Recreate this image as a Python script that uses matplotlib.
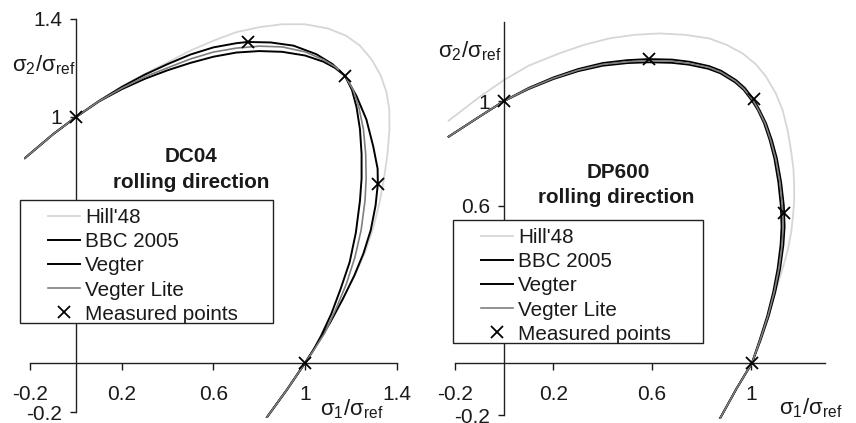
import matplotlib
matplotlib.use("Agg")
import matplotlib.pyplot as plt
from matplotlib.patches import Rectangle

plt.rcParams['font.family'] = ['Liberation Sans', 'DejaVu Sans']
plt.rcParams['mathtext.fontset'] = 'custom'
plt.rcParams['mathtext.rm'] = 'Liberation Sans'
plt.rcParams['mathtext.it'] = 'Liberation Sans:italic'
plt.rcParams['mathtext.bf'] = 'Liberation Sans:bold'

# ---- DC04 (left) ----
dc04_hill_x = [0.834, 0.92, 1.0, 1.055, 1.11, 1.165, 1.22, 1.262, 1.298, 1.325, 1.345, 1.36, 1.369, 1.368,
               1.356, 1.33, 1.29, 1.24, 1.18, 1.10, 1.0, 0.9, 0.8, 0.7, 0.6, 0.5, 0.4, 0.3, 0.2, 0.1, 0.0,
               -0.1, -0.223]
dc04_hill_y = [-0.22, -0.11, 0.0, 0.08, 0.165, 0.26, 0.36, 0.45, 0.55, 0.65, 0.75, 0.85, 0.95, 1.03,
               1.10, 1.17, 1.235, 1.29, 1.33, 1.36, 1.377, 1.377, 1.365, 1.345, 1.31, 1.27, 1.222, 1.175,
               1.125, 1.065, 1.0, 0.93, 0.833]
dc04_bbc_x = [0.834, 0.92, 1.0, 1.055, 1.11, 1.165, 1.215, 1.255, 1.287, 1.308, 1.318, 1.317, 1.298, 1.268,
              1.225, 1.175, 1.12, 1.05, 0.95, 0.85, 0.75, 0.7, 0.6, 0.5, 0.4, 0.3, 0.2, 0.1, 0.0, -0.1, -0.223]
dc04_bbc_y = [-0.22, -0.11, 0.0, 0.08, 0.165, 0.26, 0.355, 0.445, 0.54, 0.64, 0.728, 0.79, 0.88, 0.99,
              1.085, 1.167, 1.215, 1.255, 1.29, 1.303, 1.305, 1.300, 1.283, 1.254, 1.215, 1.172, 1.122,
              1.065, 1.0, 0.93, 0.833]
dc04_vegter_x = [0.834, 0.92, 1.0, 1.035, 1.07, 1.115, 1.155, 1.195, 1.222, 1.240, 1.247, 1.247, 1.240, 1.225,
                 1.205, 1.175, 1.13, 1.08, 1.0, 0.9, 0.8, 0.7, 0.6, 0.5, 0.4, 0.3, 0.2, 0.1, 0.0, -0.1, -0.223]
dc04_vegter_y = [-0.22, -0.11, 0.0, 0.05, 0.11, 0.20, 0.30, 0.41, 0.53, 0.66, 0.75, 0.85, 0.95, 1.04,
                 1.11, 1.167, 1.20, 1.225, 1.25, 1.265, 1.268, 1.262, 1.245, 1.22, 1.19, 1.155, 1.113,
                 1.063, 1.0, 0.93, 0.833]
dc04_lite_x = [0.834, 0.92, 1.0, 1.04, 1.085, 1.135, 1.18, 1.218, 1.245, 1.262, 1.267, 1.265, 1.255, 1.235,
               1.21, 1.175, 1.13, 1.08, 1.0, 0.9, 0.8, 0.7, 0.6, 0.5, 0.4, 0.3, 0.2, 0.1, 0.0, -0.1, -0.223]
dc04_lite_y = [-0.22, -0.11, 0.0, 0.055, 0.12, 0.22, 0.32, 0.43, 0.54, 0.66, 0.75, 0.85, 0.95, 1.04,
               1.11, 1.167, 1.205, 1.233, 1.265, 1.285, 1.288, 1.28, 1.264, 1.236, 1.20, 1.163, 1.117,
               1.064, 1.0, 0.93, 0.833]
dc04_meas_x = [0.0, 0.751, 1.175, 1.318, 1.0]
dc04_meas_y = [1.0, 1.305, 1.167, 0.728, 0.0]

# ---- DP600 (right) ----
dp600_hill_x = [0.875, 0.942, 1.004, 1.04, 1.072, 1.098, 1.128, 1.149, 1.163, 1.17, 1.175, 1.175, 1.172,
                1.162, 1.148, 1.128, 1.10, 1.061, 1.02, 0.966, 0.90, 0.831, 0.73, 0.629, 0.53, 0.426,
                0.326, 0.224, 0.1, 0.0, -0.1, -0.224]
dp600_hill_y = [-0.211, -0.097, 0.0, 0.09, 0.18, 0.27, 0.36, 0.431, 0.50, 0.56, 0.62, 0.673, 0.74,
                0.813, 0.89, 0.966, 1.03, 1.093, 1.14, 1.182, 1.215, 1.239, 1.253, 1.258, 1.253, 1.239,
                1.215, 1.182, 1.135, 1.08, 1.015, 0.925]
dp600_bbc_x = [0.875, 0.942, 1.004, 1.04, 1.072, 1.098, 1.118, 1.131, 1.136, 1.133, 1.122, 1.105, 1.085,
               1.061, 1.035, 1.011, 0.975, 0.939, 0.88, 0.831, 0.75, 0.68, 0.586, 0.5, 0.4, 0.3, 0.2,
               0.1, 0.0, -0.1, -0.224]
dp600_bbc_y = [-0.211, -0.097, 0.0, 0.09, 0.18, 0.27, 0.36, 0.45, 0.52, 0.60, 0.69, 0.78, 0.85, 0.915,
               0.965, 1.006, 1.05, 1.08, 1.115, 1.133, 1.150, 1.158, 1.160, 1.156, 1.145, 1.122, 1.09,
               1.05, 1.0, 0.94, 0.864]
dp600_vegter_x = [0.875, 0.942, 1.004, 1.036, 1.066, 1.09, 1.108, 1.12, 1.124, 1.121, 1.111, 1.095, 1.076,
                  1.053, 1.028, 1.005, 0.97, 0.935, 0.876, 0.828, 0.748, 0.678, 0.585, 0.5, 0.4, 0.3, 0.2,
                  0.1, 0.0, -0.1, -0.224]
dp600_vegter_y = [-0.211, -0.097, 0.0, 0.09, 0.18, 0.27, 0.36, 0.45, 0.52, 0.60, 0.69, 0.78, 0.85, 0.915,
                  0.965, 1.0, 1.043, 1.072, 1.106, 1.123, 1.139, 1.146, 1.148, 1.145, 1.135, 1.114, 1.084,
                  1.046, 1.0, 0.94, 0.864]
dp600_lite_x = [0.875, 0.942, 1.004, 1.038, 1.069, 1.094, 1.113, 1.126, 1.13, 1.127, 1.117, 1.1, 1.08,
                1.057, 1.031, 1.008, 0.972, 0.937, 0.878, 0.83, 0.75, 0.68, 0.586, 0.5, 0.4, 0.3, 0.2,
                0.1, 0.0, -0.1, -0.224]
dp600_lite_y = [-0.211, -0.097, 0.0, 0.09, 0.18, 0.27, 0.36, 0.45, 0.52, 0.60, 0.69, 0.78, 0.85, 0.915,
                0.965, 1.003, 1.046, 1.076, 1.11, 1.128, 1.144, 1.152, 1.154, 1.15, 1.14, 1.118, 1.087,
                1.048, 1.0, 0.94, 0.864]
dp600_meas_x = [0.0, 0.586, 1.011, 1.135, 1.004]
dp600_meas_y = [1.0, 1.159, 1.006, 0.571, 0.0]

legend_labels = ["Hill'48", "BBC 2005", "Vegter", "Vegter Lite", "Measured points"]
dc04_ticks = [-0.2, 0.2, 0.6, 1.0, 1.4]
dc04_ticklabels = ['-0.2', '0.2', '0.6', '1', '1.4']
dp600_ticks = [-0.2, 0.2, 0.6, 1.0]
dp600_ticklabels = ['-0.2', '0.2', '0.6', '1']

TXT = '#1a1a1a'
HILL_C = '#d6d6d6'
LITE_C = '#7f7f7f'
FS = 14.9
TICK_FS = 15
LAB_FS = 16


def draw_panel(ax, curves, meas, ticks, ticklabels, bound, legend_box, title, title_pos, ylab_pos, xlab_pos):
    (hx, hy), (bx, by), (vx, vy), (lx, ly) = curves
    ax.plot(hx, hy, color=HILL_C, lw=1.3, label=legend_labels[0], zorder=2)
    ax.plot(bx, by, color='black', lw=1.4, label=legend_labels[1], zorder=3)
    ax.plot(vx, vy, color='black', lw=1.4, label=legend_labels[2], zorder=3)
    ax.plot(lx, ly, color=LITE_C, lw=1.2, label=legend_labels[3], zorder=3)
    ax.plot(meas[0], meas[1], ls='none', marker='x', ms=9, mew=1.3, color='black',
            label=legend_labels[4], zorder=4)

    # axes through origin
    for s in ['top', 'right']:
        ax.spines[s].set_visible(False)
    ax.spines['left'].set_position(('data', 0))
    ax.spines['bottom'].set_position(('data', 0))
    for s in ['left', 'bottom']:
        ax.spines[s].set_bounds(bound[0], bound[1])
        ax.spines[s].set_color('#222222')
        ax.spines[s].set_linewidth(1.0)
    ax.set_xticks(ticks)
    ax.set_xticklabels(ticklabels)
    ax.set_yticks(ticks)
    ax.set_yticklabels(ticklabels)
    ax.tick_params(axis='x', direction='out', length=5, width=1.0, pad=11, labelsize=TICK_FS, colors=TXT)
    ax.tick_params(axis='y', direction='out', length=4, width=1.0, pad=6, labelsize=TICK_FS, colors=TXT)
    ax.patch.set_visible(False)

    ax.text(ylab_pos[0], ylab_pos[1], r'$\mathrm{\sigma_2/\sigma_{ref}}$', fontsize=LAB_FS, color=TXT,
            ha='left', va='baseline')
    ax.text(xlab_pos[0], xlab_pos[1], r'$\mathrm{\sigma_1/\sigma_{ref}}$', fontsize=LAB_FS, color=TXT,
            ha='left', va='baseline')
    ax.text(title_pos[0][0], title_pos[0][1], title, fontsize=FS, fontweight='bold', color=TXT,
            ha='center', va='center')
    ax.text(title_pos[1][0], title_pos[1][1], 'rolling direction', fontsize=FS, fontweight='bold',
            color=TXT, ha='center', va='center')

    # legend: manual white box + frameless legend on top
    x0, y0, w, h = legend_box
    ax.add_patch(Rectangle((x0, y0), w, h, transform=ax.figure.transFigure, facecolor='white',
                           edgecolor='#222222', lw=1.0, clip_on=False, zorder=5))
    leg = ax.legend(loc='upper left', bbox_to_anchor=(x0 + 28 / 856, y0 + h - 8 / 423),
                    bbox_transform=ax.figure.transFigure, frameon=False, fontsize=FS,
                    handlelength=1.55, handletextpad=0.25, labelspacing=0.25, borderpad=0,
                    borderaxespad=0, numpoints=1)
    leg.set_zorder(6)
    for t in leg.get_texts():
        t.set_color(TXT)


fig = plt.figure(figsize=(8.56, 4.23), dpi=100)

ax1 = fig.add_axes([0.02859, 0.01099, 0.44010, 0.94504])
ax1.set_xlim(-0.225, 1.42)
ax1.set_ylim(-0.225, 1.40)
draw_panel(ax1,
           [(dc04_hill_x, dc04_hill_y), (dc04_bbc_x, dc04_bbc_y), (dc04_vegter_x, dc04_vegter_y),
            (dc04_lite_x, dc04_lite_y)],
           (dc04_meas_x, dc04_meas_y), dc04_ticks, dc04_ticklabels, (-0.2, 1.4),
           (20 / 856, 1 - 323 / 423, 253 / 856, 123 / 423), 'DC04',
           ((0.502, 0.841), (0.502, 0.732)), (-0.28, 1.187), (1.066, -0.211))

ax2 = fig.add_axes([0.52243, 0.00875, 0.44720, 0.95059])
ax2.set_xlim(-0.23, 1.32)
ax2.set_ylim(-0.215, 1.32)
draw_panel(ax2,
           [(dp600_hill_x, dp600_hill_y), (dp600_bbc_x, dp600_bbc_y), (dp600_vegter_x, dp600_vegter_y),
            (dp600_lite_x, dp600_lite_y)],
           (dp600_meas_x, dp600_meas_y), dp600_ticks, dp600_ticklabels, (-0.2, 1.3),
           (452.7 / 856, 1 - 343.3 / 423, 250 / 856, 123.3 / 423), 'DP600',
           ((0.462, 0.729), (0.455, 0.630)), (-0.267, 1.168), (1.113, -0.198))

fig.savefig('out.png', dpi=100)
